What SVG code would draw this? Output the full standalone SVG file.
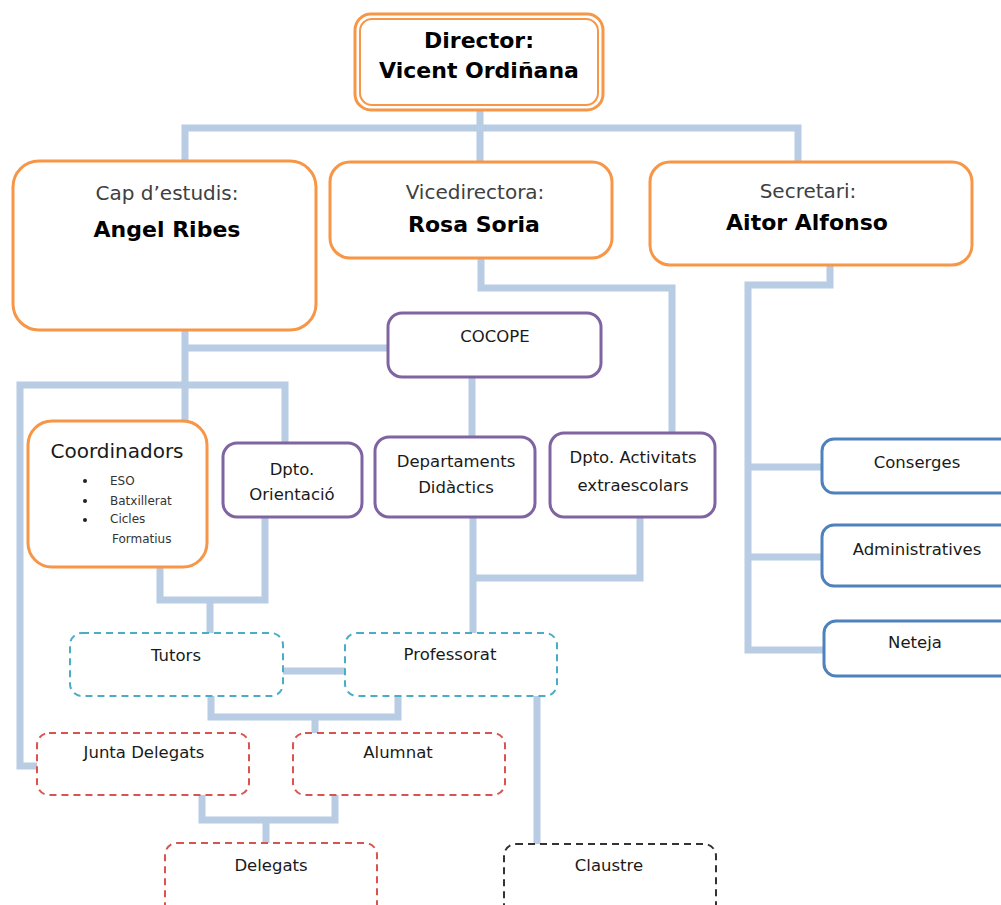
<svg xmlns="http://www.w3.org/2000/svg" width="1001" height="905" viewBox="0 0 1001 905">
<style>
.ln{fill:none;stroke:#b8cce4;stroke-width:7;stroke-linejoin:miter;stroke-linecap:square}
.or{fill:#fff;stroke:#f79646;stroke-width:3}
.pu{fill:#fff;stroke:#8064a2;stroke-width:3}
.bl{fill:#fff;stroke:#4f81bd;stroke-width:3}
.dc{fill:#fff;stroke:#4bacc6;stroke-width:2;stroke-dasharray:7 5}
.dr{fill:#fff;stroke:#d9534f;stroke-width:2;stroke-dasharray:7 5}
.dk{fill:#fff;stroke:#333;stroke-width:2;stroke-dasharray:7 5}
text{font-family:"DejaVu Sans",Verdana,sans-serif;text-anchor:middle;fill:#1a1a1a}
.h{font-size:20px;fill:#404040}
.b{font-size:22px;font-weight:bold;fill:#000}
.s{font-size:16.5px}
.xs{font-size:12px;text-anchor:start;fill:#333}
</style>
<rect width="1001" height="905" fill="#fff"/>
<g id="connectors">
<path class="ln" d="M480,110 V162 M185,162 V128 H798 V162"/>
<path class="ln" d="M185,330 V421 M185,348 H388 M20,766 V385 H285 V443 M20,766 H37"/>
<path class="ln" d="M481,258 V288 H672 V433"/>
<path class="ln" d="M472,377 V437"/>
<path class="ln" d="M830,265 V285 H748 V650 H822 M748,467 H822 M748,557 H822"/>
<path class="ln" d="M473,517 V632 M473,578 H640 V517"/>
<path class="ln" d="M160,567 V600 H265 V517 M210,600 V632"/>
<path class="ln" d="M283,671 H345"/>
<path class="ln" d="M211,696 V717 H398 V696 M315,717 V733"/>
<path class="ln" d="M202,795 V820 H335 V795 M266,820 V843"/>
<path class="ln" d="M537,696 V843"/>
</g>
<g id="director">
<rect x="355" y="14" width="248" height="96" rx="16" fill="#fff" stroke="#f79646" stroke-width="3"/>
<rect x="360" y="19" width="238" height="86" rx="12" fill="none" stroke="#f79646" stroke-width="2"/>
<text class="b" x="479" y="48">Director:</text>
<text class="b" x="479" y="78">Vicent Ordiñana</text>
</g>
<g id="cap">
<rect class="or" x="13" y="161" width="303" height="169" rx="26"/>
<text class="h" x="167" y="200">Cap d’estudis:</text>
<text class="b" x="167" y="237">Angel Ribes</text>
</g>
<g id="vicedirectora">
<rect class="or" x="330" y="162" width="282" height="96" rx="20"/>
<text class="h" x="475" y="199">Vicedirectora:</text>
<text class="b" x="474" y="232">Rosa Soria</text>
</g>
<g id="secretari">
<rect class="or" x="650" y="162" width="322" height="103" rx="20"/>
<text class="h" x="808" y="198">Secretari:</text>
<text class="b" x="807" y="230">Aitor Alfonso</text>
</g>
<g id="cocope">
<rect class="pu" x="388" y="313" width="213" height="64" rx="14"/>
<text class="s" x="495" y="342">COCOPE</text>
</g>
<g id="coordinadors">
<rect class="or" x="28" y="421" width="179" height="146" rx="24"/>
<text x="117" y="458" style="font-size:20px">Coordinadors</text>
<circle cx="85" cy="481" r="2" fill="#222"/>
<circle cx="85" cy="501" r="2" fill="#222"/>
<circle cx="85" cy="520" r="2" fill="#222"/>
<text class="xs" x="110" y="485">ESO</text>
<text class="xs" x="110" y="505">Batxillerat</text>
<text class="xs" x="110" y="523">Cicles</text>
<text class="xs" x="112" y="543">Formatius</text>
</g>
<g id="orientacio">
<rect class="pu" x="223" y="443" width="139" height="74" rx="14"/>
<text class="s" x="292" y="475">Dpto.</text>
<text class="s" x="292" y="500">Orientació</text>
</g>
<g id="didactics">
<rect class="pu" x="375" y="437" width="160" height="80" rx="14"/>
<text class="s" x="456" y="467">Departaments</text>
<text class="s" x="456" y="493">Didàctics</text>
</g>
<g id="activitats">
<rect class="pu" x="550" y="433" width="165" height="84" rx="14"/>
<text class="s" x="633" y="463">Dpto. Activitats</text>
<text class="s" x="633" y="491">extraescolars</text>
</g>
<g id="conserges">
<rect class="bl" x="822" y="439" width="200" height="54" rx="12"/>
<text class="s" x="917" y="468">Conserges</text>
</g>
<g id="administratives">
<rect class="bl" x="822" y="525" width="200" height="61" rx="12"/>
<text class="s" x="917" y="555">Administratives</text>
</g>
<g id="neteja">
<rect class="bl" x="824" y="621" width="200" height="55" rx="12"/>
<text class="s" x="915" y="648">Neteja</text>
</g>
<g id="tutors">
<rect class="dc" x="70" y="633" width="213" height="63" rx="12"/>
<text class="s" x="176" y="661">Tutors</text>
</g>
<g id="professorat">
<rect class="dc" x="345" y="633" width="212" height="63" rx="12"/>
<text class="s" x="450" y="660">Professorat</text>
</g>
<g id="junta">
<rect class="dr" x="37" y="733" width="212" height="62" rx="12"/>
<text class="s" x="144" y="758">Junta Delegats</text>
</g>
<g id="alumnat">
<rect class="dr" x="293" y="733" width="212" height="62" rx="12"/>
<text class="s" x="398" y="758">Alumnat</text>
</g>
<g id="delegats">
<rect class="dr" x="165" y="843" width="212" height="75" rx="12"/>
<text class="s" x="271" y="871">Delegats</text>
</g>
<g id="claustre">
<rect class="dk" x="504" y="844" width="212" height="75" rx="12"/>
<text class="s" x="609" y="871">Claustre</text>
</g>
</svg>
